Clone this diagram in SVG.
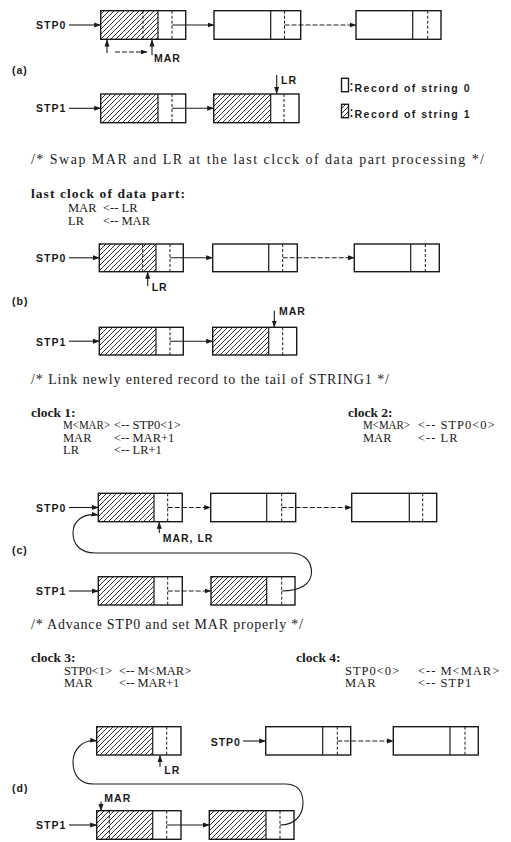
<svg xmlns="http://www.w3.org/2000/svg" width="511" height="842" viewBox="0 0 511 842">
<style>
.box{fill:none;stroke:#1a1a1a;stroke-width:1.4}
.hat{fill:url(#hatch);stroke:none}
.div{stroke:#1a1a1a;stroke-width:1.2}
.dsh{stroke:#1a1a1a;stroke-width:1;stroke-dasharray:3,2}
.ln{fill:none;stroke:#1a1a1a;stroke-width:1.1}
.lnd{fill:none;stroke:#1a1a1a;stroke-width:1.1;stroke-dasharray:5,2}
.lbl{font-family:"Liberation Sans",Arial,sans-serif;font-weight:bold;font-size:10.5px;letter-spacing:1px;fill:#1a1a1a}
.cmt{font-family:"Liberation Serif","Times New Roman",serif;font-size:14px;fill:#1a1a1a}
.hd{font-family:"Liberation Serif","Times New Roman",serif;font-size:13.5px;font-weight:bold;fill:#1a1a1a}
.code{font-family:"Liberation Serif","Times New Roman",serif;font-size:12.5px;fill:#1a1a1a}
.sp{letter-spacing:1px}
</style>
<defs>
<pattern id="hatch" patternUnits="userSpaceOnUse" width="5" height="5">
<path d="M-1,1 L1,-1 M0,5 L5,0 M4,6 L6,4" stroke="#1a1a1a" stroke-width="0.9"/>
</pattern>
<marker id="ah" markerWidth="7" markerHeight="6" refX="6.5" refY="3" orient="auto" markerUnits="userSpaceOnUse">
<path d="M0,0.5 L7,3 L0,5.5 z" fill="#1a1a1a"/>
</marker>
</defs>

<!-- ===== (a) ===== -->
<text class="lbl" x="12" y="74">(a)</text>
<g id="a-stp0-label"><text class="lbl" x="36" y="29">STP0</text></g>
<g id="a-s0-r1">
<rect class="hat" x="100.7" y="10.7" width="57.3" height="28.6"/>
<line class="dsh" x1="143" y1="10.7" x2="143" y2="39.3"/>
<rect class="box" x="100.7" y="10.7" width="85" height="28.6"/>
<line class="div" x1="158" y1="10.7" x2="158" y2="39.3"/>
<line class="dsh" x1="172" y1="10.7" x2="172" y2="39.3"/>
</g>
<g id="a-s0-r2">
<rect class="box" x="214" y="10.7" width="86.7" height="28.6"/>
<line class="div" x1="270.7" y1="10.7" x2="270.7" y2="39.3"/>
<line class="dsh" x1="284.5" y1="10.7" x2="284.5" y2="39.3"/>
</g>
<g id="a-s0-r3">
<rect class="box" x="356" y="10.7" width="85" height="28.6"/>
<line class="div" x1="412.7" y1="10.7" x2="412.7" y2="39.3"/>
<line class="dsh" x1="427.7" y1="10.7" x2="427.7" y2="39.3"/>
</g>
<g id="a-mar-label"><text class="lbl" x="154" y="62">MAR</text></g>
<g id="a-stp1-label"><text class="lbl" x="36" y="112">STP1</text></g>
<g id="a-s1-r1">
<rect class="hat" x="100.7" y="94" width="57.3" height="28.7"/>
<rect class="box" x="100.7" y="94" width="85" height="28.7"/>
<line class="div" x1="158" y1="94" x2="158" y2="122.7"/>
<line class="dsh" x1="172" y1="94" x2="172" y2="122.7"/>
</g>
<g id="a-s1-r2">
<rect class="hat" x="213.7" y="94" width="57" height="28.7"/>
<rect class="box" x="213.7" y="94" width="85.3" height="28.7"/>
<line class="div" x1="270.7" y1="94" x2="270.7" y2="122.7"/>
<line class="dsh" x1="284" y1="94" x2="284" y2="122.7"/>
</g>
<g id="a-lr-label"><text class="lbl" x="281" y="84">LR</text></g>
<g id="legend">
<rect class="box" x="341.5" y="78.3" width="7" height="13.4" stroke-width="1.1"/>
<rect class="hat" x="341.5" y="104.3" width="7" height="13.4"/>
<rect class="box" x="341.5" y="104.3" width="7" height="13.4" stroke-width="1.1"/>
<circle cx="351.5" cy="84" r="1" fill="#1a1a1a"/><circle cx="351.5" cy="90" r="1" fill="#1a1a1a"/>
<circle cx="351.5" cy="110" r="1" fill="#1a1a1a"/><circle cx="351.5" cy="116" r="1" fill="#1a1a1a"/>
<text class="lbl" x="354.5" y="92" textLength="116" lengthAdjust="spacing">Record of string 0</text>
<text class="lbl" x="354.5" y="118" textLength="116" lengthAdjust="spacing">Record of string 1</text>
</g>

<!-- ===== text (b) ===== -->
<text class="cmt" x="31" y="164" textLength="453" lengthAdjust="spacing">/* Swap MAR and LR at the last clcck of data part processing */</text>
<text class="hd" x="31" y="198" textLength="154" lengthAdjust="spacing">last clock of data part:</text>
<text class="code" x="68" y="212">MAR</text><text class="code" x="103" y="212">&lt;-- LR</text>
<text class="code" x="68" y="225">LR</text><text class="code" x="103" y="225">&lt;-- MAR</text>

<!-- ===== (b) ===== -->
<text class="lbl" x="12" y="305">(b)</text>
<g id="b-stp0-label"><text class="lbl" x="36" y="262">STP0</text></g>
<g id="b-s0-r1">
<rect class="hat" x="99.3" y="244" width="56.7" height="27.7"/>
<line class="dsh" x1="142.7" y1="244" x2="142.7" y2="271.7"/>
<rect class="box" x="99.3" y="244" width="84" height="27.7"/>
<line class="div" x1="156" y1="244" x2="156" y2="271.7"/>
<line class="dsh" x1="170" y1="244" x2="170" y2="271.7"/>
</g>
<g id="b-s0-r2">
<rect class="box" x="212.7" y="244" width="84.6" height="27.7"/>
<line class="div" x1="268.7" y1="244" x2="268.7" y2="271.7"/>
<line class="dsh" x1="282.7" y1="244" x2="282.7" y2="271.7"/>
</g>
<g id="b-s0-r3">
<rect class="box" x="354.3" y="244" width="85" height="27.7"/>
<line class="div" x1="410.7" y1="244" x2="410.7" y2="271.7"/>
<line class="dsh" x1="425.3" y1="244" x2="425.3" y2="271.7"/>
</g>
<g id="b-lr-label"><text class="lbl" x="151.7" y="291">LR</text></g>
<g id="b-stp1-label"><text class="lbl" x="36" y="345.5">STP1</text></g>
<g id="b-s1-r1">
<rect class="hat" x="99.3" y="327.3" width="56.7" height="27.7"/>
<rect class="box" x="99.3" y="327.3" width="84" height="27.7"/>
<line class="div" x1="156" y1="327.3" x2="156" y2="355"/>
<line class="dsh" x1="170" y1="327.3" x2="170" y2="355"/>
</g>
<g id="b-s1-r2">
<rect class="hat" x="212.7" y="327.3" width="56" height="27.7"/>
<rect class="box" x="212.7" y="327.3" width="84" height="27.7"/>
<line class="div" x1="268.7" y1="327.3" x2="268.7" y2="355"/>
<line class="dsh" x1="282.7" y1="327.3" x2="282.7" y2="355"/>
</g>
<g id="b-mar-label"><text class="lbl" x="279" y="315">MAR</text></g>

<!-- ===== text (c) ===== -->
<text class="cmt" x="31" y="384" textLength="358" lengthAdjust="spacing">/* Link newly entered record to the tail of STRING1 */</text>
<text class="hd" x="31" y="417">clock 1:</text>
<text class="code" x="63" y="429" textLength="47" lengthAdjust="spacingAndGlyphs">M&lt;MAR&gt;</text><text class="code" x="114" y="429">&lt;-- STP0&lt;1&gt;</text>
<text class="code" x="63" y="441.5">MAR</text><text class="code" x="114" y="441.5">&lt;-- MAR+1</text>
<text class="code" x="63" y="454">LR</text><text class="code" x="114" y="454">&lt;-- LR+1</text>
<text class="hd" x="348" y="417">clock 2:</text>
<text class="code" x="363" y="429" textLength="47" lengthAdjust="spacingAndGlyphs">M&lt;MAR&gt;</text><text class="code sp" x="418" y="429">&lt;-- STP0&lt;0&gt;</text>
<text class="code" x="363" y="441.5">MAR</text><text class="code sp" x="418" y="441.5">&lt;-- LR</text>

<!-- ===== (c) ===== -->
<text class="lbl" x="12" y="554">(c)</text>
<g id="c-stp0-label"><text class="lbl" x="36" y="511.5">STP0</text></g>
<g id="c-s0-r1">
<rect class="hat" x="98.3" y="493.3" width="55.7" height="28.4"/>
<rect class="box" x="98.3" y="493.3" width="84" height="28.4"/>
<line class="div" x1="154" y1="493.3" x2="154" y2="521.7"/>
<line class="dsh" x1="167.7" y1="493.3" x2="167.7" y2="521.7"/>
</g>
<g id="c-s0-r2">
<rect class="box" x="210.7" y="493.3" width="85" height="28.4"/>
<line class="div" x1="266.7" y1="493.3" x2="266.7" y2="521.7"/>
<line class="dsh" x1="281.7" y1="493.3" x2="281.7" y2="521.7"/>
</g>
<g id="c-s0-r3">
<rect class="box" x="351.7" y="493.3" width="85" height="28.4"/>
<line class="div" x1="409.3" y1="493.3" x2="409.3" y2="521.7"/>
<line class="dsh" x1="422.7" y1="493.3" x2="422.7" y2="521.7"/>
</g>
<g id="c-marlr-label"><text class="lbl" x="162.7" y="541.5">MAR, LR</text></g>
<g id="c-stp1-label"><text class="lbl" x="36" y="595">STP1</text></g>
<g id="c-s1-r1">
<rect class="hat" x="98.3" y="576.7" width="55.7" height="28.3"/>
<rect class="box" x="98.3" y="576.7" width="84" height="28.3"/>
<line class="div" x1="154" y1="576.7" x2="154" y2="605"/>
<line class="dsh" x1="167.7" y1="576.7" x2="167.7" y2="605"/>
</g>
<g id="c-s1-r2">
<rect class="hat" x="211" y="576.7" width="55.7" height="28.3"/>
<rect class="box" x="211" y="576.7" width="84" height="28.3"/>
<line class="div" x1="266.7" y1="576.7" x2="266.7" y2="605"/>
<line class="dsh" x1="281.7" y1="576.7" x2="281.7" y2="605"/>
</g>

<!-- ===== text (d) ===== -->
<text class="cmt" x="31" y="629" textLength="272" lengthAdjust="spacing">/* Advance STP0 and set MAR properly */</text>
<text class="hd" x="31" y="662">clock 3:</text>
<text class="code" x="64" y="674.5">STP0&lt;1&gt;</text><text class="code" x="119" y="674.5">&lt;-- M&lt;MAR&gt;</text>
<text class="code" x="64" y="687">MAR</text><text class="code" x="119" y="687">&lt;-- MAR+1</text>
<text class="hd" x="296" y="662">clock 4:</text>
<text class="code sp" x="345" y="674.5">STP0&lt;0&gt;</text><text class="code sp" x="418" y="674.5">&lt;-- M&lt;MAR&gt;</text>
<text class="code sp" x="345" y="687">MAR</text><text class="code sp" x="418" y="687">&lt;-- STP1</text>

<!-- ===== (d) ===== -->
<text class="lbl" x="12" y="792">(d)</text>
<g id="d-top-r1">
<rect class="hat" x="96.7" y="726.7" width="56" height="28.3"/>
<rect class="box" x="96.7" y="726.7" width="84.3" height="28.3"/>
<line class="div" x1="152.7" y1="726.7" x2="152.7" y2="755"/>
<line class="dsh" x1="166.7" y1="726.7" x2="166.7" y2="755"/>
</g>
<g id="d-lr-label"><text class="lbl" x="164.3" y="774">LR</text></g>
<g id="d-stp0-label"><text class="lbl" x="210.7" y="746">STP0</text></g>
<g id="d-s0-r2">
<rect class="box" x="265.7" y="726.7" width="85" height="28.3"/>
<line class="div" x1="322.7" y1="726.7" x2="322.7" y2="755"/>
<line class="dsh" x1="337.3" y1="726.7" x2="337.3" y2="755"/>
</g>
<g id="d-s0-r3">
<rect class="box" x="393.3" y="726.7" width="85" height="28.3"/>
<line class="div" x1="450" y1="726.7" x2="450" y2="755"/>
<line class="dsh" x1="465" y1="726.7" x2="465" y2="755"/>
</g>
<g id="d-mar-label"><text class="lbl" x="104.3" y="802">MAR</text></g>
<g id="d-stp1-label"><text class="lbl" x="36" y="829">STP1</text></g>
<g id="d-s1-r1">
<rect class="hat" x="96.7" y="810.7" width="56" height="28.6"/>
<line class="dsh" x1="109.3" y1="810.7" x2="109.3" y2="839.3"/>
<rect class="box" x="96.7" y="810.7" width="84.3" height="28.6"/>
<line class="div" x1="152.7" y1="810.7" x2="152.7" y2="839.3"/>
<line class="dsh" x1="166.7" y1="810.7" x2="166.7" y2="839.3"/>
</g>
<g id="d-s1-r2">
<rect class="hat" x="209.3" y="810.7" width="56.7" height="28.6"/>
<rect class="box" x="209.3" y="810.7" width="84.7" height="28.6"/>
<line class="div" x1="266" y1="810.7" x2="266" y2="839.3"/>
<line class="dsh" x1="280" y1="810.7" x2="280" y2="839.3"/>
</g>

<!-- ===== connectors ===== -->
<g id="connectors">
<!-- (a) -->
<line class="ln" x1="69" y1="25" x2="100.7" y2="25" marker-end="url(#ah)"/>
<line class="ln" x1="172" y1="25" x2="214" y2="25" marker-end="url(#ah)"/>
<line class="lnd" x1="284.5" y1="25" x2="356" y2="25" marker-end="url(#ah)"/>
<line class="ln" x1="107" y1="53" x2="107" y2="40" marker-end="url(#ah)"/>
<line class="lnd" x1="115" y1="52" x2="147" y2="52" marker-end="url(#ah)"/>
<line class="ln" x1="152" y1="55" x2="152" y2="40" marker-end="url(#ah)"/>
<line class="ln" x1="69" y1="108.3" x2="100.7" y2="108.3" marker-end="url(#ah)"/>
<line class="ln" x1="172" y1="108.3" x2="213.7" y2="108.3" marker-end="url(#ah)"/>
<line class="ln" x1="276.7" y1="75" x2="276.7" y2="93.5" marker-end="url(#ah)"/>
<!-- (b) -->
<line class="ln" x1="69" y1="257.8" x2="99.3" y2="257.8" marker-end="url(#ah)"/>
<line class="ln" x1="170" y1="257.8" x2="212.7" y2="257.8" marker-end="url(#ah)"/>
<line class="lnd" x1="282.7" y1="257.8" x2="354.3" y2="257.8" marker-end="url(#ah)"/>
<line class="ln" x1="147.7" y1="286" x2="147.7" y2="272.2" marker-end="url(#ah)"/>
<line class="ln" x1="69" y1="341.2" x2="99.3" y2="341.2" marker-end="url(#ah)"/>
<line class="ln" x1="170" y1="341.2" x2="212.7" y2="341.2" marker-end="url(#ah)"/>
<line class="ln" x1="274.3" y1="310.7" x2="274.3" y2="327" marker-end="url(#ah)"/>
<!-- (c) -->
<line class="ln" x1="69" y1="507.5" x2="98.3" y2="507.5" marker-end="url(#ah)"/>
<line class="lnd" x1="167.7" y1="507.5" x2="210.7" y2="507.5" marker-end="url(#ah)"/>
<line class="lnd" x1="281.7" y1="507.5" x2="351.7" y2="507.5" marker-end="url(#ah)"/>
<line class="ln" x1="159.3" y1="533" x2="159.3" y2="522.2" marker-end="url(#ah)"/>
<line class="ln" x1="69" y1="591" x2="98.3" y2="591" marker-end="url(#ah)"/>
<line class="lnd" x1="167.7" y1="591" x2="211" y2="591" marker-end="url(#ah)"/>
<path class="ln" d="M281.7,591 C300,591 311.5,584 311.5,572 C311.5,560 303,553 290,553 L95,553 C81,553 73,545 73,533 C73,521 83,513 98,515" marker-end="url(#ah)"/>
<!-- (d) -->
<line class="ln" x1="160" y1="767" x2="160" y2="755.5" marker-end="url(#ah)"/>
<line class="ln" x1="243" y1="741" x2="265.7" y2="741" marker-end="url(#ah)"/>
<line class="lnd" x1="337.3" y1="741" x2="393.3" y2="741" marker-end="url(#ah)"/>
<line class="ln" x1="101" y1="801.7" x2="101" y2="810.5" marker-end="url(#ah)"/>
<line class="ln" x1="69" y1="825" x2="96.7" y2="825" marker-end="url(#ah)"/>
<line class="ln" x1="166.7" y1="825" x2="209.3" y2="825" marker-end="url(#ah)"/>
<path class="ln" d="M280,825 C295,825 303,815 303,803 C303,791 297,784 285,784 L93,784 C80,784 73,775 73,762 C73,750 82,739 96.7,741" marker-end="url(#ah)"/>
</g>
</svg>
